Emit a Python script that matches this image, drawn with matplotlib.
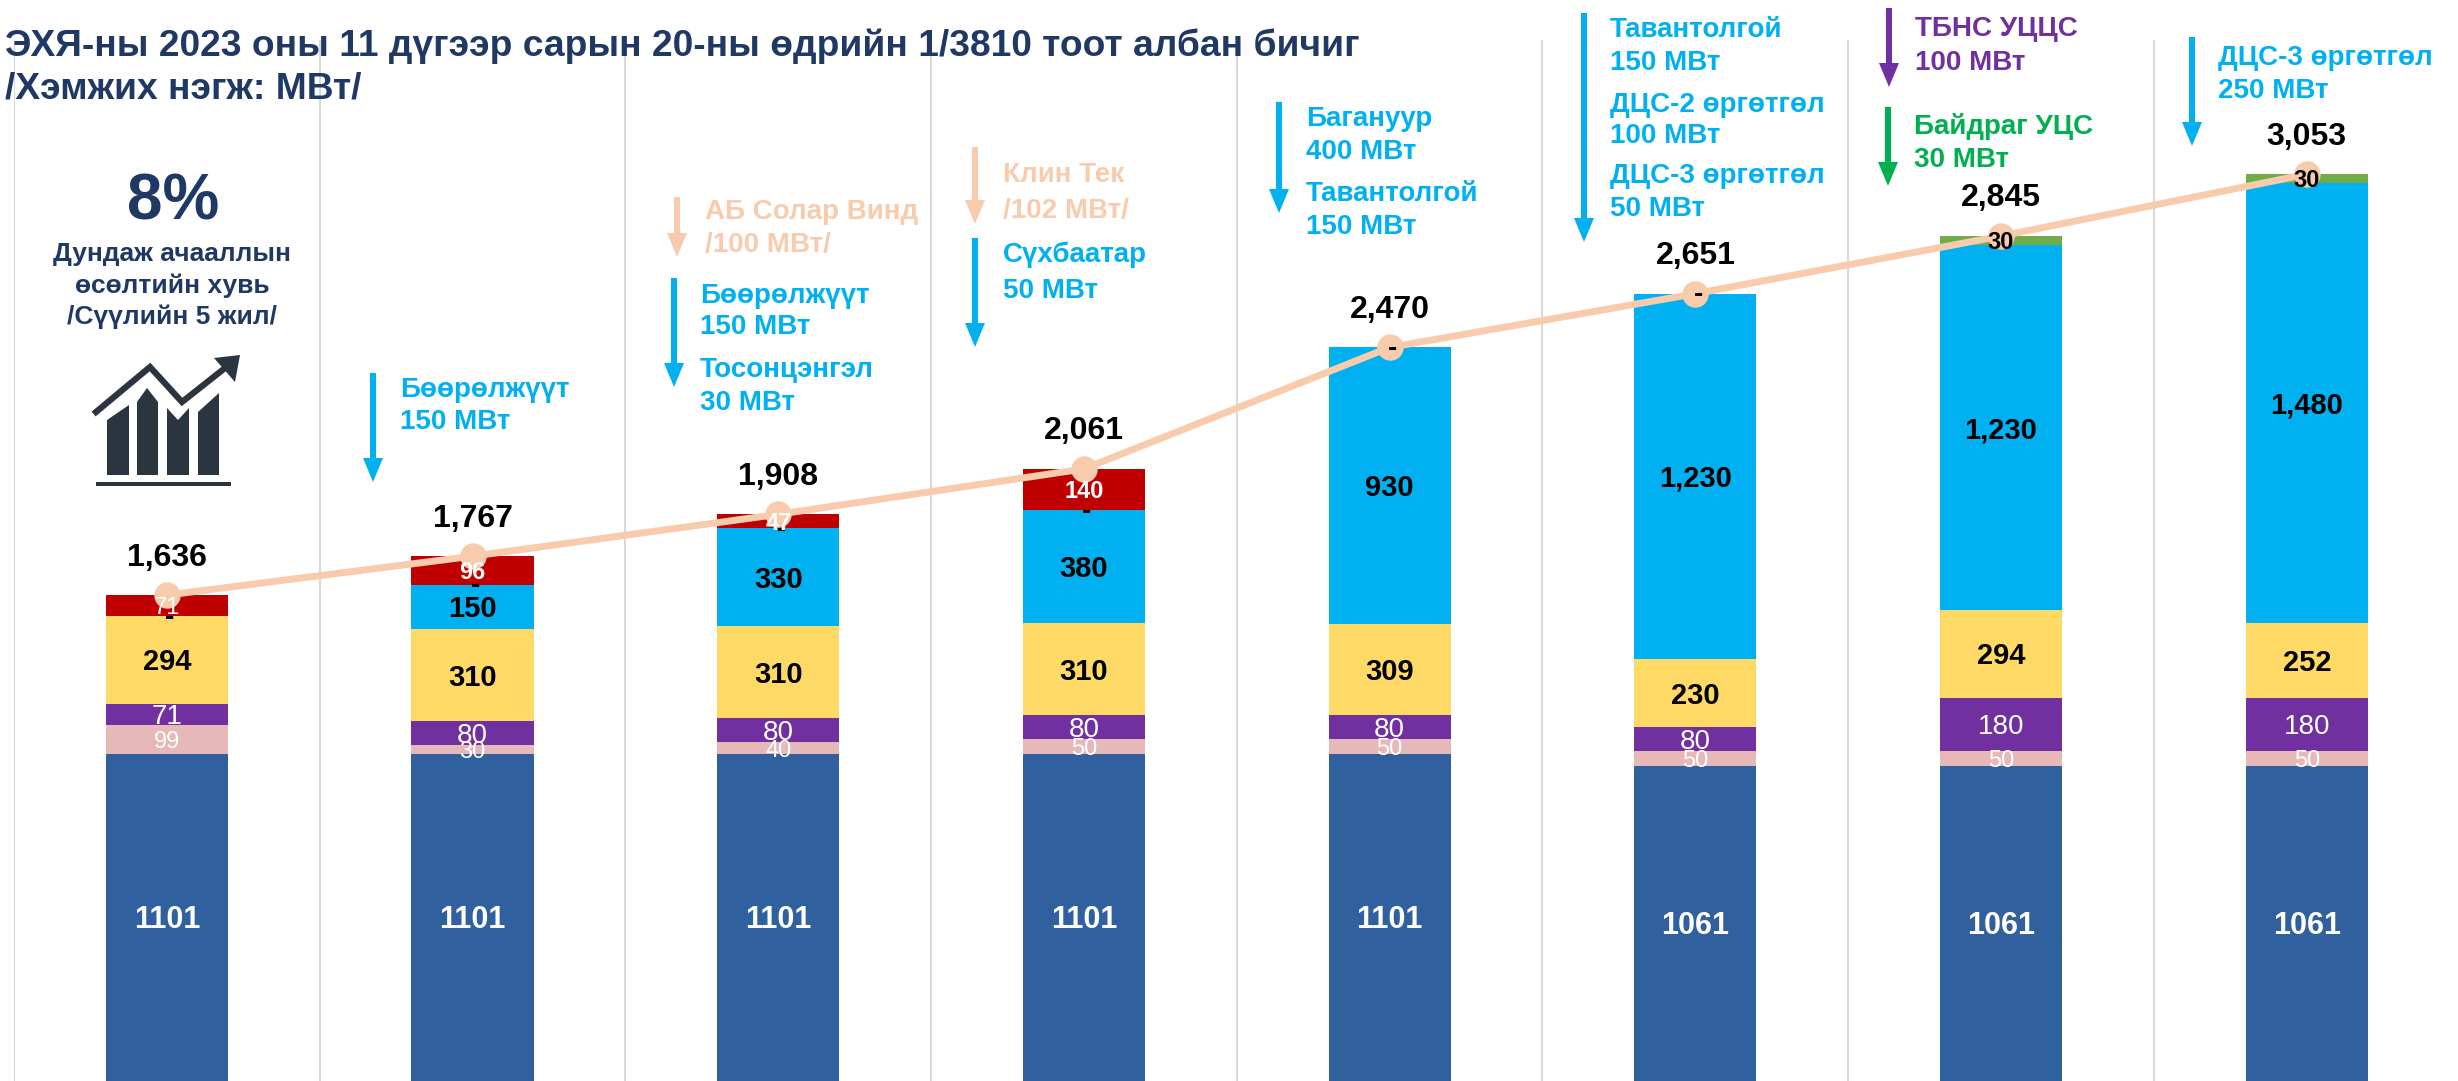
import matplotlib
matplotlib.use("Agg")
import matplotlib.pyplot as plt
from matplotlib.patches import Polygon, Rectangle

plt.rcParams['font.family'] = ['Liberation Sans', 'DejaVu Sans']

W, H = 2458, 1081
DPI = 100

# ---- data ----
base_coal = [1101, 1101, 1101, 1101, 1101, 1061, 1061, 1061]
pink = [99, 30, 40, 50, 50, 50, 50, 50]
purple = [71, 80, 80, 80, 80, 80, 180, 180]
yellow = [294, 310, 310, 310, 309, 230, 294, 252]
light_blue = [0, 150, 330, 380, 930, 1230, 1230, 1480]
green = [0, 0, 0, 0, 0, 0, 30, 30]
red = [71, 96, 47, 140, 0, 0, 0, 0]
totals = [1636, 1767, 1908, 2061, 2470, 2651, 2845, 3053]

title_lines = ["ЭХЯ-ны 2023 оны 11 дүгээр сарын 20-ны өдрийн 1/3810 тоот албан бичиг",
               "/Хэмжих нэгж: МВт/"]
kpi_value = "8%"
kpi_lines = ["Дундаж ачааллын", "өсөлтийн хувь", "/Сүүлийн 5 жил/"]

NAVY = "#1F3864"
PEACH = "#F8CBAD"
SKY = "#00B0F0"
VIOLET = "#7030A0"
LEAF = "#00B050"

series = [
    (base_coal, "#31609F", "white", 22, "bold", False, "{}"),
    (pink, "#E6B8B7", "white", 17, "normal", False, "{}"),
    (purple, "#7030A0", "white", 20, "normal", False, "{}"),
    (yellow, "#FFD966", "black", 21, "bold", False, "{}"),
    (light_blue, "#00B0F0", "black", 21, "bold", True, "{:,}"),
    (green, "#70AD47", "black", 17, "bold", True, "{}"),
    (red, "#C00000", "white", 17, "bold", False, "{}"),
]

fig = plt.figure(figsize=(W / DPI, H / DPI), dpi=DPI, facecolor="white")
ax = fig.add_axes([14 / W, 0, 8 * 305.7 / W, (H - 40) / H])
ax.set_xlim(-0.5, 7.5)
ax.set_ylim(0, (H - 40) / 0.297)
ax.axis("off")
for g in range(8):
    ax.axvline(g - 0.5, color="#D9D9D9", lw=1.5, zorder=0)

xs = list(range(8))
bottom = [0] * 8
for vals, col, tc, size, weight, dash, fmt in series:
    ax.bar(xs, vals, 0.4, bottom=bottom, color=col, zorder=2)
    for i, v in enumerate(vals):
        mid = bottom[i] + v / 2
        if v == 0:
            if dash:
                ax.annotate("-", (i, mid), xytext=(2, -6), textcoords="offset points",
                            ha="center", va="baseline", fontsize=20, fontweight="bold",
                            color="black", zorder=6)
            continue
        w = "normal" if (col == "#C00000" and v == 71) else weight
        ax.annotate(fmt.format(v), (i, mid), xytext=(0, -0.358 * size), textcoords="offset points",
                    ha="center", va="baseline", fontsize=size, fontweight=w, color=tc, zorder=6)
    bottom = [b + v for b, v in zip(bottom, vals)]

ax.plot(xs, totals, color=PEACH, lw=5, marker="o", ms=18, mec=PEACH, mfc=PEACH,
        zorder=4, solid_capstyle="round")
for i, t in enumerate(totals):
    ax.annotate(f"{t:,}", (i, t), xytext=(0, 0.72 * 41 - 0.358 * 23), textcoords="offset points",
                ha="center", va="baseline", fontsize=23, fontweight="bold", color="black", zorder=6)

# overlay in pixel coordinates for the slide decoration
ov = fig.add_axes([0, 0, 1, 1], facecolor="none")
ov.set_xlim(0, W)
ov.set_ylim(H, 0)
ov.axis("off")


def put(x, yc, s, size, color, ha="left", weight="bold"):
    ov.text(x, yc + 0.358 * size / 0.72, s, fontsize=size, color=color, ha=ha, va="baseline",
            fontweight=weight, zorder=8)


def down(x, y0, y1, color):
    ov.arrow(x, y0, 0, y1 - y0, width=6, head_width=20, head_length=24,
             length_includes_head=True, color=color, lw=0, zorder=8)


put(5, 43, title_lines[0], 26.7, NAVY)
put(5, 85, title_lines[1], 26.7, NAVY)
put(173, 197, kpi_value, 46, NAVY, ha="center")
for yc, s in zip([252, 284, 315], kpi_lines):
    put(172, yc, s, 19, NAVY, ha="center")

# icon
ICON = "#2B3540"
for poly in ([(107, 420), (129, 405), (129, 475), (107, 475)],
             (((137, 402), (147, 388), (158, 402), (158, 475), (137, 475))),
             ((167, 408), (178, 420), (189, 408), (189, 475), (167, 475)),
             ((198, 412), (219, 393), (219, 475), (198, 475))):
    ov.add_patch(Polygon(poly, closed=True, color=ICON, lw=0, zorder=8))
ov.plot([96, 150, 182, 225], [412, 367, 402, 368], color=ICON, lw=4.5, zorder=8,
        solid_joinstyle="miter")
ov.add_patch(Polygon([(240, 355), (214, 358), (235, 382)], closed=True, color=ICON, lw=0, zorder=8))
ov.add_patch(Rectangle((96, 482), 135, 4, color=ICON, lw=0, zorder=8))

# annotations
down(373, 373, 482, SKY)
put(400, 387, "Бөөрөлжүүт", 20, SKY)
put(400, 419, "150 МВт", 20, SKY)

down(677, 197, 257, PEACH)
put(705, 209, "АБ Солар Винд", 20, PEACH)
put(705, 242, "/100 МВт/", 20, PEACH)
down(674, 278, 387, SKY)
put(700, 293, "Бөөрөлжүүт", 20, SKY)
put(700, 324, "150 МВт", 20, SKY)
put(700, 367, "Тосонцэнгэл", 20, SKY)
put(700, 400, "30 МВт", 20, SKY)

down(975, 147, 224, PEACH)
put(1003, 172, "Клин Тек", 20, PEACH)
put(1003, 208, "/102 МВт/", 20, PEACH)
down(975, 238, 347, SKY)
put(1003, 252, "Сүхбаатар", 20, SKY)
put(1003, 288, "50 МВт", 20, SKY)

down(1279, 102, 213, SKY)
put(1306, 116, "Багануур", 20, SKY)
put(1306, 149, "400 МВт", 20, SKY)
put(1306, 191, "Тавантолгой", 20, SKY)
put(1306, 224, "150 МВт", 20, SKY)

down(1584, 13, 242, SKY)
put(1610, 27, "Тавантолгой", 20, SKY)
put(1610, 60, "150 МВт", 20, SKY)
put(1610, 102, "ДЦС-2 өргөтгөл", 20, SKY)
put(1610, 133, "100 МВт", 20, SKY)
put(1610, 173, "ДЦС-3 өргөтгөл", 20, SKY)
put(1610, 206, "50 МВт", 20, SKY)

down(1889, 8, 87, VIOLET)
put(1915, 26, "ТБНС УЦЦС", 20, VIOLET)
put(1915, 60, "100 МВт", 20, VIOLET)
down(1888, 107, 186, LEAF)
put(1914, 124, "Байдраг УЦС", 20, LEAF)
put(1914, 157, "30 МВт", 20, LEAF)

down(2192, 37, 146, SKY)
put(2218, 55, "ДЦС-3 өргөтгөл", 20, SKY)
put(2218, 88, "250 МВт", 20, SKY)

fig.savefig("out.png", dpi=DPI, facecolor="white")
